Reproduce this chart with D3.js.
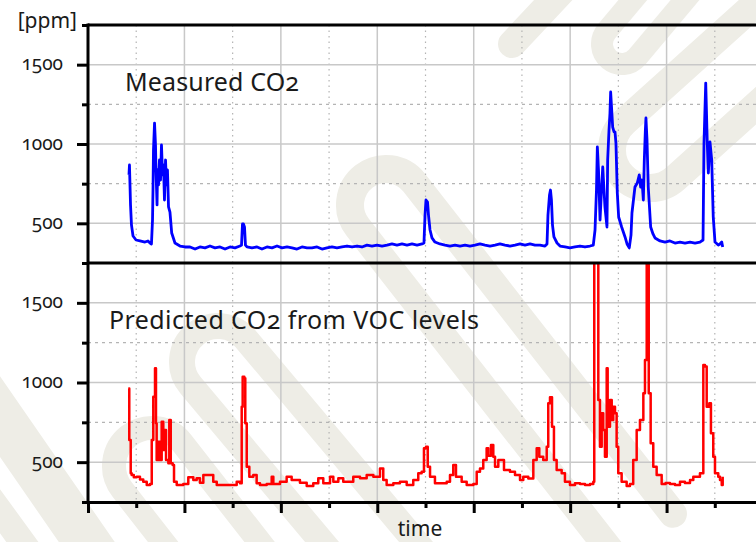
<!DOCTYPE html>
<html>
<head>
<meta charset="utf-8">
<script src="https://cdn.jsdelivr.net/npm/d3@7"></script>
<style>
  html, body { margin: 0; padding: 0; background: #fff; overflow: hidden; }
  svg { display: block; }
  text { font-family: "Noto Sans", "Open Sans", sans-serif; font-feature-settings: "onum" 1; fill: #1a1a1a; }
</style>
</head>
<body>
<div id="main"></div>
<script>
// measured CO2 [time, ppm]
const measured = [
  [42.5,805],[43,868],[44.1,616],[45.1,489],[46.7,420],[49.8,395],[53.9,389],[59.1,382],[62.2,389],[64.3,376],
  [65.8,370],[66.9,521],[67.4,710],[67.9,962],[69,1132],[70,994],[70.5,836],[71.6,616],[72.1,836],[73.1,742],
  [74.1,899],[75.2,773],[76.2,994],[77.3,805],[78.3,868],[79.3,647],[80.4,899],[81.4,742],[82.4,836],[83.5,603],
  [85,571],[86.8,439],[90.2,376],[95.4,357],[100.6,351],[105.8,351],[111,338],[116.1,351],[121.3,345],[126.5,357],
  [131.7,345],[136.9,351],[142.1,338],[147.3,351],[152.4,345],[157.6,357],[159.2,363],[160.2,496],[161.2,496],[162.3,477],
  [163.3,363],[164.9,351],[170,345],[175.3,351],[180.4,338],[185.6,351],[190.8,345],[196,357],[201.2,345],[206.4,351],
  [211.6,345],[216.7,338],[221.9,351],[227.1,345],[232.3,345],[237.5,351],[242.7,338],[247.8,345],[253,351],[258.2,345],
  [263.4,351],[268.6,357],[273.8,351],[279,357],[284.1,351],[289.3,363],[294.5,357],[299.7,363],[304.9,357],[310.1,363],
  [315.2,370],[320.4,363],[325.6,370],[330.8,363],[336,370],[341.2,363],[346.4,370],[348.4,376],[349.5,552],[350.5,647],
  [352.1,634],[353.1,552],[354.7,458],[356.7,408],[359.8,382],[365,370],[370.2,363],[375.4,357],[380.6,363],[385.8,357],
  [391,363],[396.1,357],[401.3,363],[406.5,370],[411.7,363],[416.9,357],[422.1,363],[427.2,370],[432.4,363],[437.6,357],
  [442.8,363],[448,370],[453.2,363],[458.4,370],[463.5,363],[468.7,363],[473.9,357],[476,370],[477,552],[478.6,679],
  [479.6,710],[480.6,647],[481.7,489],[483.2,414],[486.4,376],[489.5,357],[494.7,351],[499.8,345],[505,351],[510.2,357],
  [515.4,351],[520.6,357],[524,363],[525.8,458],[527.3,710],[528.2,981],[529.4,836],[531,521],[532.5,710],[533.8,855],
  [535.1,710],[536.1,603],[538.2,477],[538.9,899],[540.3,1088],[541.3,1195],[542,1328],[543.1,1214],[544.1,1107],[545.5,1076],
  [546.5,1076],[547.5,1006],[548.9,691],[550.3,540],[553.4,477],[556.9,414],[559,370],[561.3,345],[563.1,426],[564.1,565],
  [567.2,729],[569.6,754],[571.7,805],[573.1,729],[574.5,773],[575.9,647],[576.9,899],[578,1088],[578.6,1164],[579.7,1025],
  [581,729],[583.5,477],[585.9,433],[588,408],[593.2,389],[598.4,382],[603.5,389],[608.7,376],[613.9,382],[619.1,376],
  [624.3,382],[629.5,376],[634.6,382],[637.8,395],[638.8,1006],[640.6,1384],[642.2,1006],[643.3,817],[645,1013],[646.8,899],
  [648.4,540],[650.2,382],[653.6,363],[655.4,370],[657.2,382],[658.2,351]
];

// predicted CO2 from VOC [time, ppm]
const predicted = [
  [41.8,963],[42.8,639],[44.3,430],[45.3,419],[47.5,405],[50.5,409],[53.9,392],[57.3,377],[60.9,357],[64.3,363],
  [66.1,639],[67.7,911],[69.5,1089],[70.5,744],[71.2,514],[72.9,628],[74.7,514],[76.4,754],[78.1,576],[79.1,702],
  [80.9,514],[83.3,493],[84.3,765],[85.8,493],[87.8,482],[89.2,377],[92,357],[98.8,363],[104,405],[109.2,388],
  [112.7,399],[116.1,371],[119.6,419],[126.5,419],[129.9,377],[133.5,357],[150.7,357],[154.2,377],[157.6,367],[159.4,848],
  [160.4,1036],[162.1,1026],[163.1,744],[164.6,472],[167.3,409],[171.4,419],[174.9,367],[178.4,357],[185.3,363],[190.5,409],
  [192.2,363],[199.1,377],[206,409],[211.2,388],[219.8,371],[226.8,350],[233.6,367],[238.8,399],[244,367],[251,409],
  [254.4,377],[259.6,399],[264.7,377],[275.1,409],[282.1,399],[289,419],[295.9,409],[302.8,461],[306.2,388],[309.7,357],
  [316.6,367],[323.5,377],[330.5,357],[337.3,388],[342.5,430],[346,440],[348.4,587],[350.5,597],[352.3,472],[354.7,409],
  [359.8,367],[372,377],[375.4,419],[378.8,482],[381.6,409],[387.5,377],[392.7,357],[399.6,363],[403.1,440],[406.5,461],
  [409.9,514],[413.4,587],[415.1,540],[417.9,608],[420.3,534],[422.1,472],[425.5,514],[429,514],[431.4,451],[437.6,440],
  [442.8,419],[448,388],[451.4,409],[456.6,398],[461.8,514],[465.3,587],[468,534],[472.1,514],[475.7,597],[477.3,869],
  [479.1,907],[481.2,723],[483.2,514],[486,451],[491.2,430],[494.6,377],[499.8,357],[505,367],[510.2,363],[515.4,357],
  [520.6,363],[524,377],[525,1900],[527.5,1900],[529.2,890],[530.9,597],[532.7,807],[534.3,702],[536.1,534],[537.9,1089],
  [538.9,723],[541.3,890],[543.1,765],[544.7,848],[546.5,807],[548.2,597],[549.9,430],[553.4,377],[558.6,350],[562,363],
  [565.4,514],[569,702],[572.4,765],[575.9,932],[577.6,1141],[579.4,1900],[580.4,1900],[581.5,932],[583.5,618],[586.2,472],
  [589.7,419],[594.9,363],[599,370],[603.5,363],[608.7,357],[613.9,377],[619,370],[624.3,388],[627.7,409],[634.6,430],
  [638.1,1110],[639.8,1100],[641.6,848],[644.3,869],[646,681],[648.4,534],[650.2,430],[653.6,409],[655.4,388],[657.2,357],
  [658.2,409]
];

const yMajor = [500, 1000, 1500];
const yMinor = [250, 750, 1250, 1750];
const yLabels = ["500", "1000", "1500"];
const xMajor = [0, 100, 200, 300, 400, 500, 600, 700];
const xMinor = [50, 150, 250, 350, 450, 550, 650];
const panelTitles = ["Measured CO2", "Predicted CO2 from VOC levels"];

const W = 756, H = 542;
const left = 88;

const svg = d3.select('#main').append('svg')
  .attr('width', W).attr('height', H);

// faint logo watermark: rotated hairpin shapes
function hairpin(cx, cy, r, deg, len) {
  const a = deg * Math.PI / 180;
  const dx = Math.cos(a), dy = Math.sin(a);
  const px = -dy * r, py = dx * r;
  const p = d3.path();
  p.moveTo(cx + px + dx * len, cy + py + dy * len);
  p.lineTo(cx + px, cy + py);
  p.arc(cx, cy, r, Math.atan2(py, px), Math.atan2(-py, -px), false);
  p.lineTo(cx - px + dx * len, cy - py + dy * len);
  return p.toString();
}
const wm = [
  ["M -60 330 L 120 590", 46],
  ["M -30 470 L 50 580", 26],
  [hairpin(152, 466, 38, 52, 260), 24],
  [hairpin(218, 362, 36, 50, 320), 26],
  [hairpin(386, 205, 36, 52, 420), 28],
  ["M 512 44 L 572 -20", 28],
  [hairpin(622, 44, 20, -50, 90), 22],
  [hairpin(650, 150, 38, -42, 220), 28]
];
svg.append('g').selectAll('path').data(wm).join('path')
  .attr('d', d => d[0])
  .attr('fill', 'none')
  .attr('stroke', '#eeede6')
  .attr('stroke-width', d => d[1])
  .attr('stroke-linecap', 'round');

const x = d3.scaleLinear().domain([0, 700]).range([left, left + 700 * 0.9643]);

const panels = [
  { data: measured, color: '#0000ff', width: 2.8, curve: d3.curveLinear,
    y: d3.scaleLinear().domain([250, 1750]).range([263, 25]) },
  { data: predicted, color: '#ff0000', width: 2.5, curve: d3.curveStepAfter,
    y: d3.scaleLinear().domain([250, 1750]).range([502, 263]) }
];

// vertical grid over both panels
const grid = svg.append('g');
grid.selectAll('line.vmaj').data(xMajor.slice(1)).join('line')
  .attr('x1', d => x(d)).attr('x2', d => x(d))
  .attr('y1', 25).attr('y2', 502)
  .attr('stroke', '#c8c8c8').attr('stroke-width', 1.5);
grid.selectAll('line.vmin').data(xMinor).join('line')
  .attr('x1', d => x(d)).attr('x2', d => x(d))
  .attr('y1', 25).attr('y2', 502)
  .attr('stroke', '#b4b4b4').attr('stroke-width', 1.2)
  .attr('stroke-dasharray', '1.5,4');

panels.forEach((p, i) => {
  const g = svg.append('g');
  // horizontal grid
  g.selectAll('line.hmaj').data(yMajor).join('line')
    .attr('x1', left).attr('x2', W)
    .attr('y1', d => p.y(d)).attr('y2', d => p.y(d))
    .attr('stroke', '#c8c8c8').attr('stroke-width', 1.5);
  g.selectAll('line.hmin').data([750, 1250]).join('line')
    .attr('x1', left).attr('x2', W)
    .attr('y1', d => p.y(d)).attr('y2', d => p.y(d))
    .attr('stroke', '#b4b4b4').attr('stroke-width', 1.2)
    .attr('stroke-dasharray', '3,4');

  const [y0, y1] = p.y.range();
  svg.append('clipPath').attr('id', 'clip' + i)
    .append('rect').attr('x', left).attr('y', y1).attr('width', W - left).attr('height', y0 - y1);

  const line = d3.line().curve(p.curve).x(d => x(d[0])).y(d => p.y(d[1]));
  g.append('path')
    .datum(p.data)
    .attr('clip-path', `url(#clip${i})`)
    .attr('d', line)
    .attr('fill', 'none')
    .attr('stroke', p.color)
    .attr('stroke-width', p.width)
    .attr('stroke-linejoin', 'round');

  // left axis, major ticks with labels
  const ax = svg.append('g').attr('transform', `translate(${left},0)`)
    .call(d3.axisLeft(p.y).tickValues(yMajor).tickSize(11).tickSizeOuter(0)
      .tickPadding(14).tickFormat((d, k) => yLabels[k]));
  ax.select('.domain').remove();
  ax.selectAll('.tick line').attr('stroke', '#000').attr('stroke-width', 3);
  ax.selectAll('.tick text').attr('font-size', 19).attr('dy', '0.27em');

  const axm = svg.append('g').attr('transform', `translate(${left},0)`)
    .call(d3.axisLeft(p.y).tickValues(yMinor).tickSize(6).tickSizeOuter(0).tickFormat(''));
  axm.select('.domain').remove();
  axm.selectAll('.tick line').attr('stroke', '#000').attr('stroke-width', 3);

  // panel title
  svg.append('text')
    .attr('x', i === 0 ? 125 : 109)
    .attr('y', i === 0 ? 91 : 329)
    .attr('font-size', 25)
    .attr('textLength', i === 0 ? 174 : 370)
    .attr('lengthAdjust', 'spacing')
    .text(panelTitles[i]);
});

// frame lines: top, divider, left axis
const frame = svg.append('g').attr('stroke', '#000').attr('stroke-width', 3);
frame.append('line').attr('x1', left).attr('x2', W).attr('y1', 25).attr('y2', 25);
frame.append('line').attr('x1', left).attr('x2', W).attr('y1', 263).attr('y2', 263);
frame.append('line').attr('x1', left).attr('x2', left).attr('y1', 23.5).attr('y2', 503.5);

// bottom axis
const bx = svg.append('g').attr('transform', 'translate(0,502)')
  .call(d3.axisBottom(x).tickValues(xMajor).tickSize(11).tickSizeOuter(0).tickFormat(''));
bx.select('.domain').attr('stroke', '#000').attr('stroke-width', 3);
bx.selectAll('.tick line').attr('stroke', '#000').attr('stroke-width', 3);
const bxm = svg.append('g').attr('transform', 'translate(0,502)')
  .call(d3.axisBottom(x).tickValues(xMinor).tickSize(6).tickSizeOuter(0).tickFormat(''));
bxm.select('.domain').remove();
bxm.selectAll('.tick line').attr('stroke', '#000').attr('stroke-width', 3);

svg.append('text')
  .attr('x', 77).attr('y', 28)
  .attr('text-anchor', 'end')
  .attr('font-size', 21)
  .text('[ppm]');

svg.append('text')
  .attr('x', 420).attr('y', 536)
  .attr('text-anchor', 'middle')
  .attr('font-size', 21)
  .text('time');
</script>
</body>
</html>
